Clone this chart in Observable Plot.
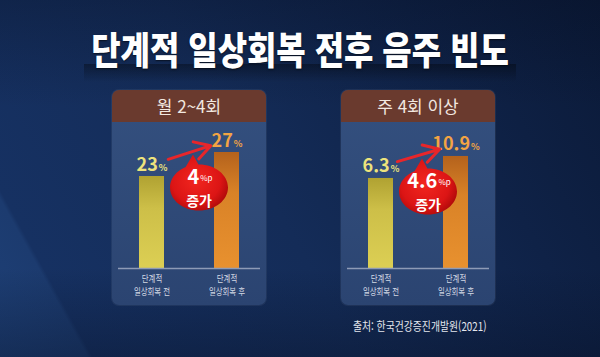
<!DOCTYPE html>
<html lang="ko"><head><meta charset="utf-8">
<script src="https://cdn.jsdelivr.net/npm/d3@7"></script>
<script src="https://cdn.jsdelivr.net/npm/@observablehq/plot@0.6"></script>
<style>
html,body{margin:0;padding:0}
body{width:600px;height:357px;overflow:hidden;position:relative;font-family:"Noto Sans CJK KR","Noto Sans",sans-serif;
 background:
  linear-gradient(180deg, rgba(5,12,30,0.30) 0%, rgba(5,12,30,0) 30%, rgba(5,12,30,0) 75%, rgba(5,12,30,0.35) 100%),
  linear-gradient(61deg, #1e4077 0%, #1c3b6f 11%, #163162 11.6%, #142c58 45%, #0f2247 75%, #0b1a38 100%);}
#title{position:absolute;left:0;top:29px;width:600px;text-align:center;color:#fff;font-weight:900;font-size:38px;line-height:38px;transform:scaleX(0.84);text-shadow:0 1px 2px rgba(0,0,0,.6);white-space:nowrap}
#shade{position:absolute;left:84px;top:64px;width:432px;height:18px;background:linear-gradient(180deg,rgba(0,0,0,.35),rgba(0,0,0,0));}
.panel{position:absolute;top:90px;width:154px;height:215px;border-radius:7px;overflow:hidden;background:linear-gradient(180deg,#34507f,#2b4471);box-shadow:0 0 0 1px rgba(255,255,255,.06)}
.hd{height:32px;background:#6a3a2e;color:#f2e8e0;font-size:17px;line-height:32px;text-align:center;}
.panel svg{position:absolute;left:0;top:32px}
#src{position:absolute;left:353px;top:318px;font-size:12px;line-height:16px;color:#e4e7ee;transform:scaleX(0.82);transform-origin:0 50%;white-space:nowrap}
</style></head>
<body>
<svg width="0" height="0" style="position:absolute"><defs>
<linearGradient id="gYellow" x1="0" y1="0" x2="0" y2="1">
 <stop offset="0" stop-color="#b0a232"/><stop offset="0.35" stop-color="#cdbf48"/><stop offset="1" stop-color="#dccf54"/>
</linearGradient>
<linearGradient id="gOrange" x1="0" y1="0" x2="0" y2="1">
 <stop offset="0" stop-color="#b4621c"/><stop offset="0.35" stop-color="#d98227"/><stop offset="1" stop-color="#e8912f"/>
</linearGradient>
<radialGradient id="gRed" cx="0.45" cy="0.45" r="0.6">
 <stop offset="0" stop-color="#f2261f"/><stop offset="0.7" stop-color="#dc1515"/><stop offset="1" stop-color="#b00a0a"/>
</radialGradient>
</defs></svg>
<div id="shade"></div>
<div id="title"></div>
<div id="src"></div>
<script>
const title = "단계적 일상회복 전후 음주 빈도";
const source = "출처: 한국건강증진개발원(2021)";
const panelNames = ["월 2~4회", "주 4회 이상"];
const stages = ["before", "after"];
const stageLabels = ["단계적\n일상회복 전", "단계적\n일상회복 후"];
const monthly = [23, 27];
const weekly = [6.3, 10.9];
const changeWord = "증가";

document.getElementById("title").textContent = title;
document.getElementById("src").textContent = source;

// custom ellipse-with-tail symbol for the change badge
const badgeSymbol = {
  draw(ctx) {
    const rx = 29, ry = 23, k = 0.5523;
    ctx.moveTo(rx, 0);
    ctx.bezierCurveTo(rx, k * ry, k * rx, ry, 0, ry);
    ctx.bezierCurveTo(-k * rx, ry, -rx, k * ry, -rx, 0);
    ctx.bezierCurveTo(-rx, -k * ry, -k * rx, -ry, 0, -ry);
    ctx.bezierCurveTo(k * rx, -ry, rx, -k * ry, rx, 0);
    ctx.closePath();
    ctx.moveTo(-16, -16);
    ctx.lineTo(-6, -33);
    ctx.lineTo(1, -20);
    ctx.closePath();
  }
};

function makePanel(name, values, yDomain, left) {
  const rows = stages.map((s, i) => ({stage: s, value: values[i]}));
  const before = rows[0], after = rows[1];
  const diff = Math.round((after.value - before.value) * 10) / 10;
  const labelOf = Object.fromEntries(stages.map((s, i) => [s, stageLabels[i]]));

  const div = document.createElement("div");
  div.className = "panel";
  div.style.left = left + "px";
  const hd = document.createElement("div");
  hd.className = "hd";
  hd.textContent = name;
  div.appendChild(hd);

  const svg = Plot.plot({
    width: 154, height: 183,
    marginTop: 0, marginBottom: 37, marginLeft: 6, marginRight: 6,
    style: {background: "transparent", overflow: "visible", fontFamily: "'Noto Sans CJK KR', sans-serif"},
    x: {domain: stages, paddingInner: 0.667, paddingOuter: 0.28, axis: null},
    y: {domain: yDomain, axis: null},
    marks: [
      Plot.barY(rows, {filter: d => d.stage === "before", x: "stage", y1: yDomain[0], y2: "value", fill: "url(#gYellow)"}),
      Plot.barY(rows, {filter: d => d.stage === "after", x: "stage", y1: yDomain[0], y2: "value", fill: "url(#gOrange)"}),
      Plot.ruleY([yDomain[0]], {stroke: "#8e9bb6", strokeWidth: 1.5}),
      Plot.axisX({tickSize: 0, tickPadding: 5, fontSize: 9.5, lineHeight: 1.3, fill: "#d3d9e4", tickFormat: d => labelOf[d], ariaDescription: "stage-axis"}),
      Plot.text(rows, {filter: d => d.stage === "before", x: "stage", y: "value", text: d => String(d.value), lineAnchor: "bottom", dy: -6, fontSize: 18, fontWeight: "bold", fill: "#ede37c", ariaDescription: "value"}),
      Plot.text(rows, {filter: d => d.stage === "after", x: "stage", y: "value", text: d => String(d.value), lineAnchor: "bottom", dy: -6, fontSize: 18, fontWeight: "bold", fill: "#f3a443", ariaDescription: "value"}),
      Plot.arrow([{from: before.stage, to: after.stage, v1: before.value, v2: after.value}],
        {x1: "from", y1: "v1", x2: "to", y2: "v2", stroke: "#e8262a", strokeWidth: 3, headLength: 9, insetStart: 17, insetEnd: 17, dy: -12}),
      Plot.dot([after], {x: "stage", y: "value", symbol: badgeSymbol, r: 1, fill: "url(#gRed)", stroke: "none", dx: -28, dy: 35}),
      Plot.text([after], {x: "stage", y: "value", text: () => String(diff), dx: -27, dy: 25, fontSize: 20, fontWeight: "bold", fill: "white", ariaDescription: "badge-num"}),
      Plot.text([after], {x: "stage", y: "value", text: () => changeWord, dx: -28, dy: 49, fontSize: 14, fontWeight: "bold", fill: "white"})
    ]
  });

  const s = d3.select(svg);
  s.selectAll('g[aria-description="value"] text').each(function () {
    d3.select(this).append("tspan").attr("font-size", 9).attr("dx", 1).text("%");
  });
  s.selectAll('g[aria-description="badge-num"] text').each(function () {
    d3.select(this).append("tspan").attr("font-size", 8).attr("font-weight", "normal").attr("dx", 1).attr("dy", -3).text("%p");
  });
  s.selectAll('g[aria-description="stage-axis"] text').each(function () {
    const t = this.getAttribute("transform");
    if (t) this.setAttribute("transform", t + " scale(0.78,1)");
  });

  div.appendChild(svg);
  document.body.appendChild(div);
}

makePanel(panelNames[0], monthly, [7.67, 32], 112);
makePanel(panelNames[1], weekly, [-12.52, 18], 341);
</script>
</body></html>
